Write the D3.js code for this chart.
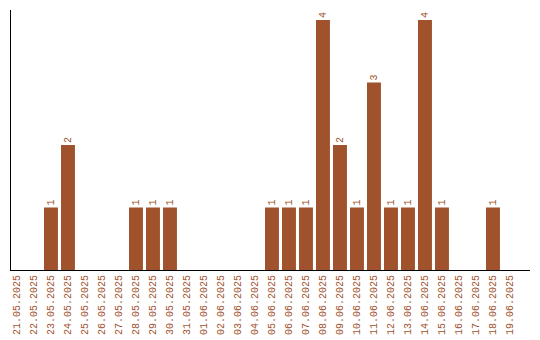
<!DOCTYPE html>
<html>
<head>
<meta charset="utf-8">
<script src="https://cdn.jsdelivr.net/npm/d3@7"></script>
<style>
  body { margin: 0; background: #fff; }
  text { font-family: "Liberation Mono", monospace; fill: #a0522d; }
</style>
</head>
<body>
<div id="chart"></div>
<script>
const dates = [
  "21.05.2025", "22.05.2025", "23.05.2025", "24.05.2025", "25.05.2025",
  "26.05.2025", "27.05.2025", "28.05.2025", "29.05.2025", "30.05.2025",
  "31.05.2025", "01.06.2025", "02.06.2025", "03.06.2025", "04.06.2025",
  "05.06.2025", "06.06.2025", "07.06.2025", "08.06.2025", "09.06.2025",
  "10.06.2025", "11.06.2025", "12.06.2025", "13.06.2025", "14.06.2025",
  "15.06.2025", "16.06.2025", "17.06.2025", "18.06.2025", "19.06.2025"
];
const counts = [
  0, 0, 1, 2, 0,
  0, 0, 1, 1, 1,
  0, 0, 0, 0, 0,
  1, 1, 1, 4, 2,
  1, 3, 1, 1, 4,
  1, 0, 0, 1, 0
];

const width = 540;
const height = 340;
const left = 10;
const bottom = 270;
const barColor = "#a0522d";

const data = dates.map((d, i) => ({ date: d, count: counts[i] }));

const svg = d3
  .select("#chart")
  .append("svg")
  .attr("width", width)
  .attr("height", height);

const x = d3
  .scaleBand()
  .domain(dates)
  .range([left, left + 17 * (dates.length - 0.18)])
  .paddingInner(0.18)
  .paddingOuter(0);

const y = d3.scaleLinear().domain([0, 4.16]).range([bottom, 10]);

svg
  .append("g")
  .selectAll("rect")
  .data(data.filter((d) => d.count > 0))
  .join("rect")
  .attr("x", (d) => x(d.date))
  .attr("y", (d) => y(d.count))
  .attr("width", x.bandwidth())
  .attr("height", (d) => y(0) - y(d.count))
  .attr("fill", barColor);

// value labels, rotated
svg
  .append("g")
  .selectAll("text")
  .data(data.filter((d) => d.count > 0))
  .join("text")
  .attr(
    "transform",
    (d) => `translate(${x(d.date) + x.bandwidth() / 2 + 3.5},${y(d.count) - 2}) rotate(-90)`
  )
  .attr("font-size", 10)
  .text((d) => d.count);

// axes
svg
  .append("line")
  .attr("x1", left + 0.5)
  .attr("x2", left + 0.5)
  .attr("y1", y.range()[1])
  .attr("y2", bottom)
  .attr("stroke", "#000");

svg
  .append("line")
  .attr("x1", left)
  .attr("x2", 530)
  .attr("y1", bottom + 0.5)
  .attr("y2", bottom + 0.5)
  .attr("stroke", "#000");

// date labels
svg
  .append("g")
  .selectAll("text")
  .data(dates)
  .join("text")
  .attr(
    "transform",
    (d) => `translate(${x(d) + x.bandwidth() / 2 + 3.5},${bottom + 5}) rotate(-90)`
  )
  .attr("text-anchor", "end")
  .attr("font-size", 10)
  .text((d) => d);
</script>
</body>
</html>
